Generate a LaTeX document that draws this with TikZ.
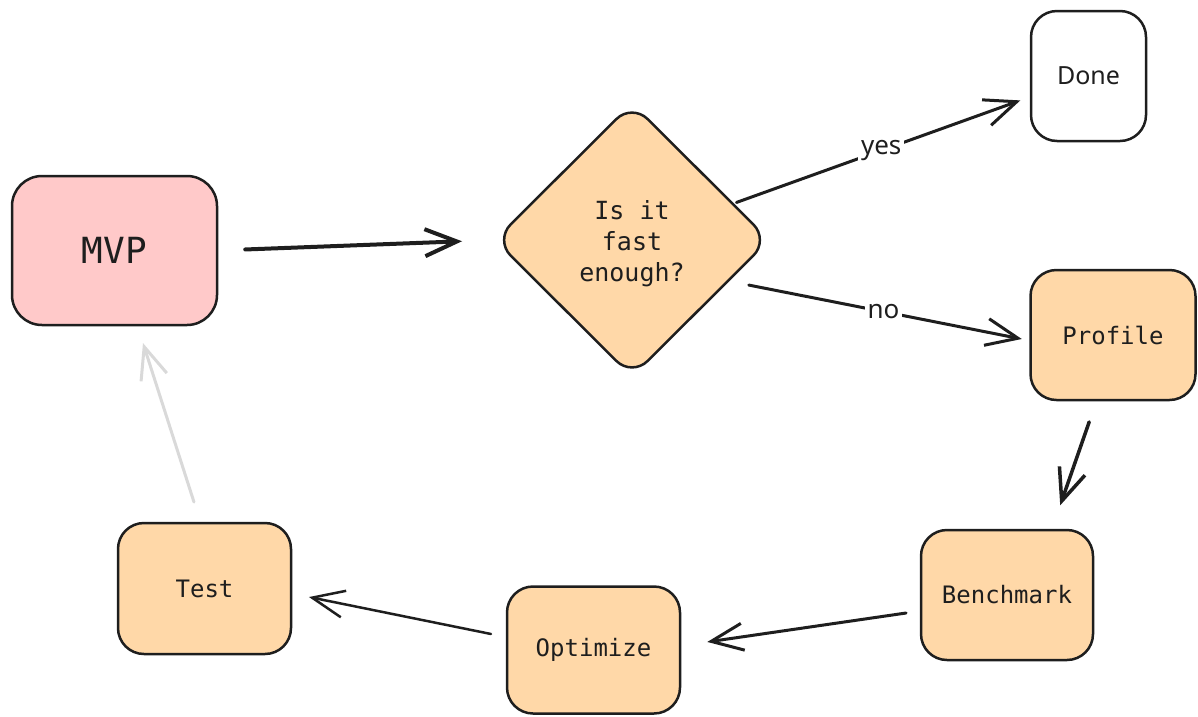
\documentclass[tikz,border=0pt]{standalone}
\usepackage{fontspec}
\setmainfont{Noto Sans}
\newfontfamily\codefont{DejaVu Sans Mono}
\usetikzlibrary{shapes.geometric,arrows.meta}
\definecolor{ink}{HTML}{1E1E1E}
\definecolor{rose}{HTML}{FFC9C9}
\definecolor{peach}{HTML}{FFD8A8}
\definecolor{faint}{HTML}{D9D9D9}

\begin{document}
\begin{tikzpicture}[x=1pt,y=-1pt,
  box/.style={draw=ink, line width=2.5pt, rounded corners=26pt, fill=peach,
    inner sep=0pt, text=ink, font=\codefont\fontsize{24}{30}\selectfont},
  decision/.style={diamond, aspect=1, draw=ink, line width=2.5pt,
    rounded corners=22pt, fill=peach, inner sep=0pt, outer sep=0pt,
    minimum width=274pt, minimum height=273pt},
  question/.style={align=center, text=ink, yshift=-4pt,
    font=\codefont\fontsize{25}{31}\selectfont},
  flow/.style={draw=ink, line width=3pt, line cap=round,
    -{Straight Barb[length=32pt,width=27pt]}},
  tag/.style={fill=white, inner sep=3pt, text=ink,
    font=\fontsize{26}{30}\selectfont}
]
\useasboundingbox (0,0) rectangle (1198,716);

% nodes
\node[box, fill=rose, rounded corners=30pt, minimum width=205pt, minimum height=149pt,
  font=\codefont\fontsize{36}{40}\selectfont] (mvp) at (114.5,250.5) {MVP};
\node[decision, label={[question]center:Is it\\fast\\enough?}] (dia) at (632,240) {};
\node[box, fill=white, minimum width=115pt, minimum height=130pt,
  font=\fontsize{25}{30}\selectfont] (done) at (1088.5,76) {Done};
\node[box, minimum width=165pt, minimum height=130pt] (prof) at (1113,335) {Profile};
\node[box, minimum width=172pt, minimum height=130pt] (bench) at (1007,595) {Benchmark};
\node[box, minimum width=173pt, minimum height=127pt] (opt) at (593.5,650) {Optimize};
\node[box, minimum width=173pt, minimum height=131pt] (test) at (204.5,588.5) {Test};

% connectors
\draw[flow, line width=4pt, shorten <=27pt, shorten >=33pt] (mvp.east) -- (dia.west);
\draw[flow, shorten <=4pt, shorten >=10pt] (dia) -- node[tag]{yes} (done);
\draw[flow, shorten <=119pt, shorten >=93pt]
  ([yshift=-22pt]dia.center) -- node[tag, pos=0.523]{no} ([yshift=-22pt]prof.center);
\draw[flow, line width=3.5pt, shorten <=92pt, shorten >=95pt]
  ([xshift=6.4pt]prof.center) -- ([xshift=22pt]bench.center);
\draw[flow, shorten <=102pt, shorten >=115pt]
  ([yshift=-3.3pt]bench.center) -- ([yshift=-8.5pt]opt.center);
\draw[flow, line width=2.5pt, shorten <=104.6pt, shorten >=106.6pt]
  ([yshift=-4.8pt]opt.center) -- ([yshift=12.7pt]test.center);
\draw[flow, draw=faint, shorten <=90.8pt, shorten >=97.2pt]
  ([xshift=17.2pt]test.center) -- ([xshift=-1.2pt]mvp.center);
\end{tikzpicture}
\end{document}
